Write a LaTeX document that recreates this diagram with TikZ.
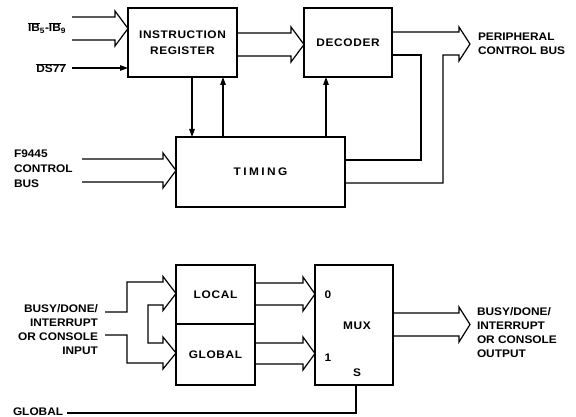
\documentclass[tikz,border=0pt]{standalone}
\usepackage{fontspec}
\setmainfont{Liberation Sans}[FakeStretch=1.08]
\usetikzlibrary{arrows.meta}
\newcommand\lblfont{\bfseries\fontsize{11}{14}\selectfont}
\newcommand\ovl[1]{$\overline{\mbox{#1}}$}
\newcommand\spc[2]{{\addfontfeature{LetterSpace=#1}#2}}
\tikzset{
  box/.style={draw, line width=2.4pt, inner sep=0pt, outer sep=0pt, align=center, font=\lblfont},
  wire/.style={line width=1.2pt},
  arr/.style={wire, -{Triangle[length=8pt,width=5.5pt]}},
  bus/.style={line width=1.2pt, line join=miter},
  lbl/.style={inner sep=0pt, outer sep=0pt, font=\lblfont}
}
\begin{document}
\begin{tikzpicture}[x=1pt,y=-1pt]
\useasboundingbox (0,0) rectangle (576,417);
% boxes
\node[box, minimum width=109pt, minimum height=69pt] (ir) at (182.5,42.5) {\spc{5}{INSTRUCTION}\\[2pt]\spc{5}{REGISTER}};
\node[box, minimum width=88pt, minimum height=69pt] (dec) at (348,42.5) {\spc{6}{DECODER}};
\node[box, minimum width=169pt, minimum height=70pt] (tim) at (260.5,172) {\spc{22}{TIMING}};
\node[lbl, minimum width=79pt, minimum height=59pt] (loc) at (215.5,294.5) {\spc{6}{LOCAL}};
\node[lbl, minimum width=79pt, minimum height=61pt] (glob) at (215.5,354.5) {\spc{6}{GLOBAL}};
\draw[line width=2.4pt] (loc.north west) rectangle (glob.south east);
\draw[wire] (loc.south west) -- (loc.south east);
\node[box, minimum width=78pt, minimum height=120pt] (mux) at (354,325) {};
\node[lbl] (mux0) at (328,295) {0};
\node[lbl] (mux1) at (328,358) {1};
\node[lbl] (muxt) at (357,326) {\spc{6}{MUX}};
\node[lbl] (muxs) at (357,373) {S};
% labels
\node[lbl, anchor=east] (lib) at (66,28) {\ovl{IB}\textsubscript{5}-\ovl{IB}\textsubscript{9}};
\node[lbl, anchor=east] (lds) at (66,68) {\ovl{DS77}};
\node[lbl, anchor=west, align=left] (lpcb) at (478,44) {PERIPHERAL\\CONTROL BUS};
\node[lbl, anchor=west, align=left, font=\bfseries\fontsize{11}{15}\selectfont] (lf) at (14,169) {F9445\\CONTROL\\BUS};
\node[lbl, anchor=east, align=right] (lin) at (98,330) {BUSY/DONE/\\INTERRUPT\\OR CONSOLE\\INPUT};
\node[lbl, anchor=west, align=left] (lout) at (477,333) {BUSY/DONE/\\INTERRUPT\\OR CONSOLE\\OUTPUT};
\node[lbl, anchor=west] (lgl) at (13,412) {GLOBAL};
% free ends
\coordinate (ibA) at (72,17);
\coordinate (ibB) at (72,40);
\coordinate (ds) at (72,68);
\coordinate (fA) at (82,159);
\coordinate (fB) at (82,182);
\coordinate (inA) at (105,312);
\coordinate (inB) at (105,335);
\coordinate (gl) at (67,413);
% top connectors
\draw[bus] (ibA) -- (115,17) -- (115,11) -- (ir.west |- 0,28.5) -- (115,46) -- (115,40) -- (ibB);
\draw[arr] (ds) -- (ir.west |- ds);
\draw[bus] (ir.east |- 0,33) -- (291,33) -- (291,27) -- (dec.west |- 0,44.5) -- (291,62) -- (291,56) -- (ir.east |- 0,56);
\draw[bus] (dec.east |- 0,32) -- (459,32) -- (459,27) -- (470,44) -- (459,61) -- (459,55) -- (443,55) -- (443,183) -- (tim.east |- 0,183);
\draw[wire] (dec.east |- 0,55) -- (421,55) -- (421,160) -- (tim.east |- 0,160);
\draw[arr] (ir.south -| 192,0) -- (tim.north -| 192,0);
\draw[arr] (tim.north -| 223,0) -- (ir.south -| 223,0);
\draw[arr] (tim.north -| 326,0) -- (dec.south -| 326,0);
\draw[bus] (fA) -- (163,159) -- (163,153) -- (tim.west |- 0,170.5) -- (163,188) -- (163,182) -- (fB);
% bottom connectors
\draw[bus] (inA) -- (127,312) -- (127,282) -- (163,282) -- (163,276.5) -- (loc.west |- 0,293.5) -- (163,310.5) -- (163,305) -- (148,305) -- (148,343) -- (163,343) -- (163,337) -- (glob.west |- 0,353) -- (163,369) -- (163,363) -- (127,363) -- (127,335) -- (inB);
\draw[bus] (loc.east |- 0,283) -- (303,283) -- (303,277) -- (mux.west |- 0,294) -- (303,311) -- (303,305) -- (loc.east |- 0,305);
\draw[bus] (glob.east |- 0,343) -- (303,343) -- (303,337) -- (mux.west |- 0,353.5) -- (303,370) -- (303,364) -- (glob.east |- 0,364);
\draw[bus] (mux.east |- 0,313) -- (459,313) -- (459,307) -- (470,324.5) -- (459,342) -- (459,336) -- (mux.east |- 0,336);
\draw[wire] (gl) -| (mux.south -| 356,0);
\end{tikzpicture}
\end{document}
